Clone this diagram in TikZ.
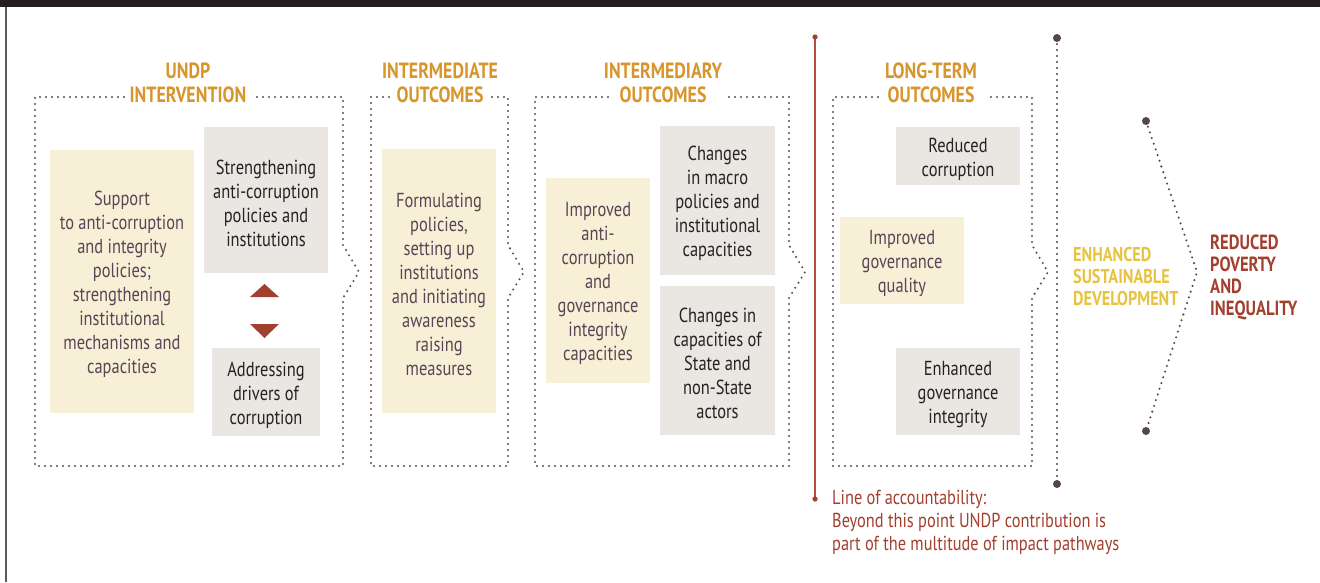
\documentclass[tikz,border=0pt]{standalone}
\usepackage{fontspec}
\setmainfont{PT Sans}[FakeStretch=0.81]
\definecolor{topbar}{HTML}{231F20}
\definecolor{frameline}{HTML}{5A5A5A}
\definecolor{ttl}{HTML}{D7952B}
\definecolor{ylw}{HTML}{F8F0D6}
\definecolor{gry}{HTML}{EAE6E2}
\definecolor{ytext}{HTML}{574556}
\definecolor{gtext}{HTML}{262123}
\definecolor{dotc}{HTML}{5E4F57}
\definecolor{darkdot}{HTML}{55464A}
\definecolor{redc}{HTML}{A33F2F}
\definecolor{redline}{HTML}{B24F3E}
\definecolor{gold}{HTML}{E8C33F}
\tikzset{
  ybox/.style={fill=ylw, inner sep=0pt},
  gbox/.style={fill=gry, inner sep=0pt},
  ytxt/.style={text=ytext, align=center, inner sep=0pt,
    font=\fontsize{20.3}{24}\selectfont},
  gtxt/.style={text=gtext, align=center, inner sep=0pt,
    font=\fontsize{20.3}{24}\selectfont},
  ttlnode/.style={text=ttl, align=center, inner sep=0pt,
    font=\fontsize{22}{23.5}\selectfont\bfseries},
  dotline/.style={draw=dotc, line width=2.3pt, line cap=round, dash pattern=on 0pt off 6pt},
  darkdots/.style={draw=darkdot, line width=2.3pt, line cap=round, dash pattern=on 0pt off 6pt},
}
\begin{document}
\begin{tikzpicture}[x=1pt,y=-1pt]
\useasboundingbox (0,0) rectangle (1320,582);
\fill[white] (0,0) rectangle (1320,582);
% frame
\fill[topbar] (0,0) rectangle (1320,7);
\draw[frameline, line width=2pt] (5.5,7) -- (5.5,582);

% titles
\node[ttlnode] (t1) at (188,83) {UNDP\\INTERVENTION};
\node[ttlnode] (t2) at (440,83) {INTERMEDIATE\\OUTCOMES};
\node[ttlnode] (t3) at (663,83) {INTERMEDIARY\\OUTCOMES};
\node[ttlnode] (t4) at (931,83) {LONG-TERM\\OUTCOMES};

% dotted frames
\draw[dotline] (124,97) -- (35,97) -- (35,466) -- (343,466) -- (343,298) -- (359,272) -- (343,245) -- (343,97) -- (256,97);
\draw[dotline] (389,97) -- (371,97) -- (371,466) -- (508,466) -- (508,298) -- (524,272) -- (508,245) -- (508,97) -- (490,97);
\draw[dotline] (608,97) -- (535,97) -- (535,466) -- (789,466) -- (789,298) -- (805,272) -- (789,245) -- (789,97) -- (723,97);
\draw[dotline] (878,97) -- (833,97) -- (833,466) -- (1032,466) -- (1032,298) -- (1048,272) -- (1032,245) -- (1032,97) -- (987,97);

% column 1
\node[ybox, minimum width=144pt, minimum height=263pt] (b1) at (122,281.5) {};
\node[ytxt] (b1t) at ([yshift=-3pt]b1.center)
  {Support\\to anti-corruption\\and integrity\\policies;\\strengthening\\institutional\\mechanisms and\\capacities};
\node[gbox, minimum width=124pt, minimum height=146pt] (b1a) at (266,200) {};
\node[gtxt] (b1at) at ([yshift=-3pt]b1a.center)
  {Strengthening\\anti-corruption\\policies and\\institutions};
\node[gbox, minimum width=108pt, minimum height=88pt] (b1b) at (266,392) {};
\node[gtxt] (b1bt) at ([yshift=-3pt]b1b.center)
  {Addressing\\drivers of\\corruption};
\fill[redc] (250,297) -- (264.5,284) -- (279,297) -- cycle;
\fill[redc] (250,324) -- (264.5,338) -- (279,324) -- cycle;

% column 2
\node[ybox, minimum width=114pt, minimum height=264pt] (b2) at (439,281) {};
\node[ytxt] (b2t) at ([yshift=-3pt]b2.center)
  {Formulating\\policies,\\setting up\\institutions\\and initiating\\awareness\\raising\\measures};

% column 3
\node[ybox, minimum width=104pt, minimum height=205pt] (b3) at (598,280.5) {};
\node[ytxt] (b3t) at ([yshift=-3pt]b3.center)
  {Improved\\anti-\\corruption\\and\\governance\\integrity\\capacities};
\node[gbox, minimum width=115pt, minimum height=149pt] (b3a) at (717.5,200.5) {};
\node[gtxt] (b3at) at ([yshift=-3pt]b3a.center)
  {Changes\\in macro\\policies and\\institutional\\capacities};
\node[gbox, minimum width=115pt, minimum height=149pt] (b3b) at (717.5,360.5) {};
\node[gtxt] (b3bt) at ([yshift=-3pt]b3b.center)
  {Changes in\\capacities of\\State and\\non-State\\actors};

% column 4
\node[gbox, minimum width=124pt, minimum height=58pt] (b4a) at (958,156) {};
\node[gtxt] (b4at) at ([yshift=-3pt]b4a.center) {Reduced\\corruption};
\node[ybox, minimum width=124pt, minimum height=87pt] (b4) at (902,260.5) {};
\node[ytxt] (b4t) at ([yshift=-3pt]b4.center) {Improved\\governance\\quality};
\node[gbox, minimum width=124pt, minimum height=87pt] (b4b) at (958,391.5) {};
\node[gtxt] (b4bt) at ([yshift=-3pt]b4b.center) {Enhanced\\governance\\integrity};

% line of accountability
\coordinate (la1) at (815,37);
\coordinate (la2) at (815,499);
\draw[redline, line width=1.6pt] (la1) -- (la2);
\fill[redc] (la1) circle (2.6pt);
\fill[redc] (la2) circle (2.6pt);
\node[anchor=west, text=redc, align=left, inner sep=0pt,
  font=\fontsize{20.2}{23}\selectfont] (lat) at (832,522)
  {Line of accountability:\\Beyond this point UNDP contribution is\\part of the multitude of impact pathways};

% dark dotted vertical line
\coordinate (d1) at (1057,38);
\coordinate (d2) at (1057,484);
\draw[darkdots] (d1) -- (d2);
\fill[darkdot] (d1) circle (4pt);
\fill[darkdot] (d2) circle (4pt);

% enhanced sustainable development
\node[anchor=west, text=gold, align=left, inner sep=0pt,
  font=\fontsize{20}{22}\selectfont\bfseries] (esd) at (1073,276)
  {ENHANCED\\SUSTAINABLE\\DEVELOPMENT};

% chevron
\coordinate (c1) at (1146,121);
\coordinate (c2) at (1197,272);
\coordinate (c3) at (1146,431);
\draw[darkdots] (c1) -- (c2) -- (c3);
\fill[darkdot] (c1) circle (4pt);
\fill[darkdot] (c3) circle (4pt);

\node[anchor=west, text=redc, align=left, inner sep=0pt,
  font=\fontsize{20.5}{22}\selectfont\bfseries] (rpi) at (1210,277)
  {REDUCED\\POVERTY\\AND\\INEQUALITY};
\end{tikzpicture}
\end{document}
